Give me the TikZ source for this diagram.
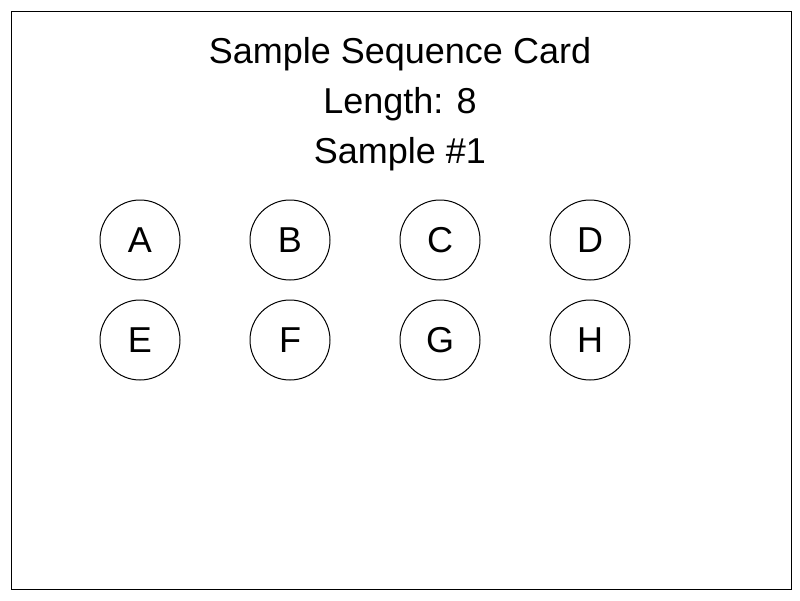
\documentclass[tikz,border=0pt]{standalone}
\usepackage{fontspec}
\setmainfont{Liberation Sans}
\begin{document}
\begin{tikzpicture}[x=1pt,y=-1pt,
  lbl/.style={font=\fontsize{36}{43}\selectfont, inner sep=0pt},
  ball/.style={draw=black, line width=1pt, circle, minimum size=80pt, inner sep=0pt, font=\fontsize{36}{43}\selectfont}]
\useasboundingbox (0,0) rectangle (800,600);
\node[draw=black, line width=1.2pt, minimum width=780pt, minimum height=578pt, inner sep=0pt, anchor=north west] (card) at (11,11) {};
\node[lbl, anchor=base] (title) at (400,63) {Sample Sequence Card};
\node[lbl, anchor=base] (len) at (400,113) {Length: 8};
\node[lbl, anchor=base] (samp) at (400,163) {Sample \#1};
\node[ball] (A) at (140,240) {A};
\node[ball] (B) at (290,240) {B};
\node[ball] (C) at (440,240) {C};
\node[ball] (D) at (590,240) {D};
\node[ball] (E) at (140,340) {E};
\node[ball] (F) at (290,340) {F};
\node[ball] (G) at (440,340) {G};
\node[ball] (H) at (590,340) {H};
\end{tikzpicture}
\end{document}
